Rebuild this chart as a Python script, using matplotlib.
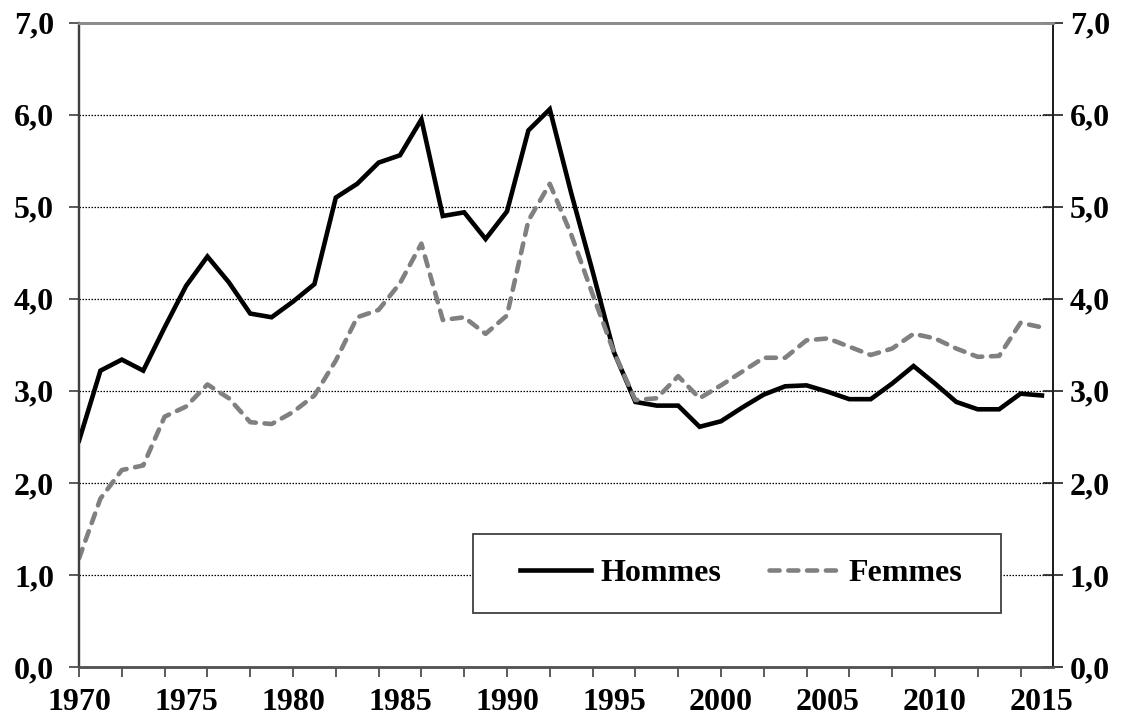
import matplotlib
matplotlib.use("Agg")
import matplotlib.pyplot as plt
from matplotlib.patches import Rectangle
from matplotlib.ticker import FixedLocator, MultipleLocator

# Annual series, 1970-2015
years = list(range(1970, 2016))
hommes = [2.46, 3.22, 3.34, 3.22, 3.69, 4.14, 4.46, 4.18, 3.84, 3.80,
          3.97, 4.16, 5.10, 5.25, 5.48, 5.56, 5.95, 4.90, 4.94, 4.65,
          4.95, 5.83, 6.06, 5.15, 4.30, 3.42, 2.88, 2.84, 2.84, 2.61,
          2.67, 2.82, 2.96, 3.05, 3.06, 2.99, 2.91, 2.91, 3.08, 3.27,
          3.08, 2.88, 2.80, 2.80, 2.97, 2.95]
femmes = [1.18, 1.83, 2.14, 2.19, 2.72, 2.83, 3.07, 2.92, 2.66, 2.64,
          2.77, 2.95, 3.33, 3.80, 3.88, 4.17, 4.60, 3.77, 3.80, 3.62,
          3.82, 4.85, 5.25, 4.70, 4.05, 3.42, 2.90, 2.92, 3.16, 2.92,
          3.06, 3.21, 3.36, 3.36, 3.55, 3.57, 3.48, 3.39, 3.46, 3.62,
          3.57, 3.46, 3.37, 3.38, 3.74, 3.69]

series_labels = ["Hommes", "Femmes"]
year_labels = [1970, 1975, 1980, 1985, 1990, 1995, 2000, 2005, 2010, 2015]
y_values = [0, 1, 2, 3, 4, 5, 6, 7]
y_labels = ["0,0", "1,0", "2,0", "3,0", "4,0", "5,0", "6,0", "7,0"]

plt.rcParams["font.family"] = ["Liberation Serif", "DejaVu Serif"]
plt.rcParams["font.weight"] = "bold"

FS = 23
fig = plt.figure(figsize=(11.26, 7.19), dpi=100)
ax = fig.add_axes([0.0702, 0.0723, 0.9354 - 0.0702, 0.9684 - 0.0723])

ax.set_xlim(1970, 2015.53)
ax.set_ylim(0, 7)

# dotted horizontal gridlines
for v in y_values[1:-1]:
    ax.axhline(v, color="black", lw=0.9, ls=(0, (1.2, 1.2)), zorder=1)

ax.plot(years, hommes, color="black", lw=3.3, solid_joinstyle="miter",
        label=series_labels[0], zorder=3)
ax.plot(years, femmes, color="#808080", lw=3.3, ls=(0, (2.2, 1.9)),
        dash_capstyle="round", dash_joinstyle="round",
        label=series_labels[1], zorder=3)

# x axis: labels every 5 years, tick marks every 2 years
ax.xaxis.set_major_locator(FixedLocator(year_labels))
ax.set_xticklabels([str(y) for y in year_labels], fontsize=FS, fontweight="bold")
ax.xaxis.set_minor_locator(MultipleLocator(2))
ax.xaxis.remove_overlapping_locs = False
ax.tick_params(axis="x", which="major", length=0, pad=15)
ax.tick_params(axis="x", which="minor", length=7, width=1.2, color="#404040",
               direction="out")

# left y axis
ax.set_yticks(y_values)
ax.set_yticklabels(y_labels, fontsize=FS, fontweight="bold")
ax.tick_params(axis="y", length=7, width=1.2, color="#404040",
               direction="out", pad=11)

# right y axis
ax2 = ax.twinx()
ax2.set_ylim(0, 7)
ax2.set_yticks(y_values)
ax2.set_yticklabels(y_labels, fontsize=FS, fontweight="bold")
ax2.tick_params(axis="y", length=14, width=1.2, color="#202020",
                direction="inout", pad=5)

for a in (ax, ax2):
    a.spines["top"].set_color("#8c8c8c")
    a.spines["top"].set_linewidth(2.0)
    a.spines["left"].set_color("#404040")
    a.spines["left"].set_linewidth(1.6)
    a.spines["right"].set_color("#202020")
    a.spines["right"].set_linewidth(1.4)
    a.spines["bottom"].set_color("#555555")
    a.spines["bottom"].set_linewidth(1.8)

# legend box
frame = Rectangle((0.4045, 0.0838), 0.5421, 0.1226, transform=ax.transAxes,
                  facecolor="white", edgecolor="#404040", lw=1.3, zorder=4)
ax.add_patch(frame)
leg = ax.legend(loc="center", bbox_to_anchor=(0.680, 0.145), ncol=2,
                frameon=False, handlelength=2.2, handletextpad=0.3,
                columnspacing=1.5, prop={"size": FS, "weight": "bold"})
leg.set_zorder(5)

fig.savefig("out.png", dpi=100)
